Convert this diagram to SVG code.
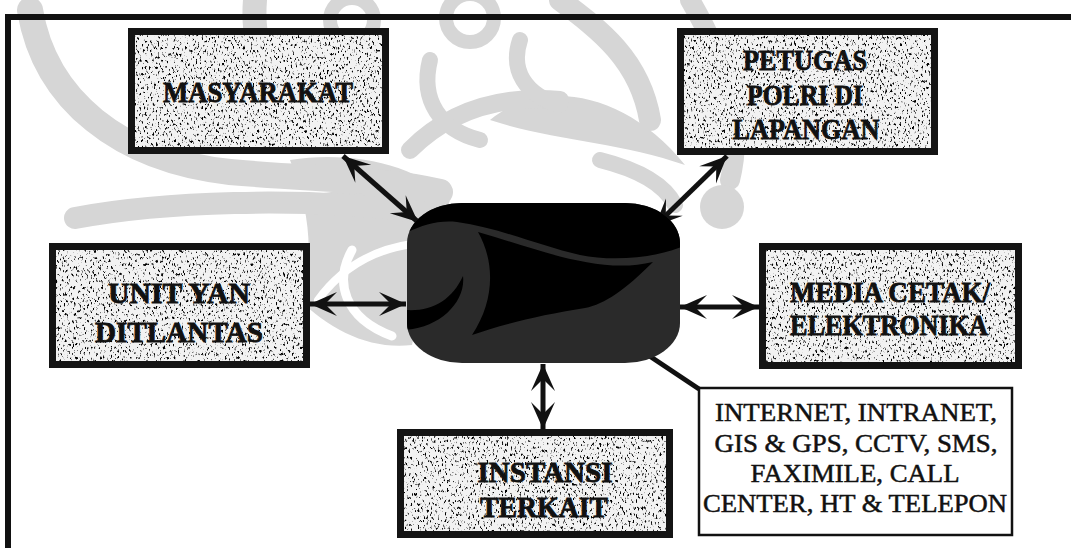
<svg xmlns="http://www.w3.org/2000/svg" width="1071" height="548" viewBox="0 0 1071 548">
  <style>
    .frame { fill: none; stroke: #111; stroke-width: 6; }
    .wm { fill: none; stroke: #d6d6d6; stroke-linecap: round; }
    .wmf { fill: #d6d6d6; }
    .gap { fill: none; stroke: #fff; stroke-linecap: round; }
    .box-bg { fill: #f2f2f2; }
    .box-edge { fill: none; stroke: #141414; stroke-width: 7; }
    .box-tex { fill: #000; }
    .lbl { font-family: "Liberation Serif", "Times New Roman", serif; font-weight: bold; font-size: 29px; fill: #111; stroke: #111; stroke-width: 0.8; text-anchor: middle; }
    .note { font-family: "Liberation Serif", "Times New Roman", serif; font-size: 26px; fill: #111; stroke: #111; stroke-width: 0.5; text-anchor: middle; }
    .link { stroke: #111; stroke-width: 5; fill: none; }
  </style>
  <defs>
    <!-- grainy halftone fill for the labelled boxes -->
    <filter id="speckle" x="0" y="0" width="100%" height="100%">
      <feTurbulence type="fractalNoise" baseFrequency="0.55 0.3" numOctaves="2" seed="7" result="n"/>
      <feColorMatrix in="n" type="matrix" values="0 0 0 0 0  0 0 0 0 0  0 0 0 0 0  -7 0 0 0 2.9" result="dots"/>
      <feComposite in="dots" in2="SourceGraphic" operator="in"/>
    </filter>
    <marker id="barb" markerUnits="userSpaceOnUse" viewBox="-28 -14 30 28" refX="0" refY="0" markerWidth="30" markerHeight="28" orient="auto-start-reverse">
      <path d="M0,0 L-27,-12 L-15,0 L-27,12 Z" fill="#111"/>
    </marker>
    <clipPath id="hubClip">
      <rect x="407" y="203" width="273" height="160" rx="55" ry="40"/>
    </clipPath>
  </defs>

  <rect width="1071" height="548" fill="#fff"/>

  <!-- background emblem -->
  <g id="emblem">
    <path class="wmf" d="M 290,160 C 350,150 420,165 450,200 L 430,260 L 412,345 C 370,350 330,330 300,300 C 315,260 310,210 290,160 Z"/>
    <path class="gap" stroke-width="10" d="M 300,192 C 345,182 400,182 448,196"/>
    <path class="gap" stroke-width="9" d="M 352,250 C 334,282 344,318 392,336"/>
    <path class="gap" stroke-width="8" d="M 318,300 C 340,270 370,250 412,244"/>
    <path class="wm" stroke-width="26" d="M 30,10 C 45,100 120,160 230,172 C 320,180 380,178 440,192"/>
    <path class="wm" stroke-width="22" d="M 75,218 C 160,202 300,196 420,212"/>
    <path class="wm" stroke-width="24" d="M 255,0 C 250,60 280,110 330,135"/>
    <circle class="wm" stroke-width="14" cx="352" cy="20" r="22"/>
    <circle class="wm" stroke-width="14" cx="470" cy="18" r="24"/>
    <path class="wm" stroke-width="22" d="M 560,0 C 600,30 640,60 650,120"/>
    <path class="wm" stroke-width="20" d="M 690,0 C 725,60 745,120 730,180"/>
    <circle class="wmf" cx="722" cy="207" r="22"/>
    <path class="wmf" d="M 490,120 C 540,78 625,90 685,165 C 620,142 550,140 490,120 Z"/>
    <path class="wm" stroke-width="18" d="M 410,150 C 450,110 500,95 560,100"/>
    <path class="wm" stroke-width="16" d="M 430,60 C 420,100 440,130 480,140"/>
    <path class="wm" stroke-width="16" d="M 520,40 C 510,70 525,95 560,105"/>
    <path class="wm" stroke-width="16" d="M 600,160 C 640,170 665,185 675,205"/>
  </g>

  <!-- outer frame -->
  <path class="frame" d="M 8,548 L 8,17 L 1071,17"/>

  <!-- connectors -->
  <g id="connectors">
    <line class="link" x1="343" y1="156" x2="418" y2="222" marker-start="url(#barb)" marker-end="url(#barb)"/>
    <line class="link" x1="727" y1="156" x2="655" y2="226" marker-start="url(#barb)" marker-end="url(#barb)"/>
    <line class="link" x1="310" y1="304" x2="406" y2="304" marker-start="url(#barb)" marker-end="url(#barb)"/>
    <line class="link" x1="680" y1="307" x2="759" y2="307" marker-start="url(#barb)" marker-end="url(#barb)"/>
    <line class="link" x1="543" y1="364" x2="543" y2="429" marker-start="url(#barb)" marker-end="url(#barb)"/>
    <line class="link" x1="645" y1="353" x2="699" y2="389"/>
  </g>

  <!-- central hub -->
  <g id="hub">
    <rect x="407" y="203" width="273" height="160" rx="55" ry="40" fill="#2a2a2a"/>
    <g clip-path="url(#hubClip)" fill="#000">
      <path d="M 400,195 L 690,195 L 690,243 C 660,258 615,262 580,255 C 540,246 500,228 457,222 C 435,220 420,226 400,236 Z"/>
      <path d="M 478,232 C 540,250 600,275 653,262 C 625,290 605,304 585,308 C 540,315 500,325 472,335 C 495,300 495,262 478,232 Z"/>
      <path d="M 405,330 C 440,328 466,302 463,276 C 452,300 432,312 405,310 Z"/>
    </g>
  </g>

  <g id="masyarakat">
    <rect class="box-bg" x="131.5" y="31.5" width="254" height="119"/>
    <rect class="box-tex" x="131.5" y="31.5" width="254" height="119" filter="url(#speckle)"/>
    <rect class="box-edge" x="131.5" y="31.5" width="254" height="119"/>
    <text class="lbl" x="258" y="102" textLength="190" lengthAdjust="spacingAndGlyphs">MASYARAKAT</text>
  </g>

  <g id="petugas">
    <rect class="box-bg" x="680.5" y="31.5" width="254" height="120"/>
    <rect class="box-tex" x="680.5" y="31.5" width="254" height="120" filter="url(#speckle)"/>
    <rect class="box-edge" x="680.5" y="31.5" width="254" height="120"/>
    <text class="lbl" x="805" y="70" textLength="124" lengthAdjust="spacingAndGlyphs">PETUGAS</text>
    <text class="lbl" x="805" y="105" textLength="116" lengthAdjust="spacingAndGlyphs">POLRI DI</text>
    <text class="lbl" x="806" y="139" textLength="147" lengthAdjust="spacingAndGlyphs">LAPANGAN</text>
  </g>

  <g id="unit-yan">
    <rect class="box-bg" x="52.5" y="246.5" width="254" height="118"/>
    <rect class="box-tex" x="52.5" y="246.5" width="254" height="118" filter="url(#speckle)"/>
    <rect class="box-edge" x="52.5" y="246.5" width="254" height="118"/>
    <text class="lbl" x="179" y="303" textLength="142" lengthAdjust="spacingAndGlyphs">UNIT YAN</text>
    <text class="lbl" x="179" y="342" textLength="168" lengthAdjust="spacingAndGlyphs">DITLANTAS</text>
  </g>

  <g id="media">
    <rect class="box-bg" x="762.5" y="246.5" width="256" height="119"/>
    <rect class="box-tex" x="762.5" y="246.5" width="256" height="119" filter="url(#speckle)"/>
    <rect class="box-edge" x="762.5" y="246.5" width="256" height="119"/>
    <text class="lbl" x="890" y="302" textLength="200" lengthAdjust="spacingAndGlyphs">MEDIA CETAK/</text>
    <text class="lbl" x="889" y="335" textLength="198" lengthAdjust="spacingAndGlyphs">ELEKTRONIKA</text>
  </g>

  <g id="instansi">
    <rect class="box-bg" x="400.5" y="432.5" width="269" height="102"/>
    <rect class="box-tex" x="400.5" y="432.5" width="269" height="102" filter="url(#speckle)"/>
    <rect class="box-edge" x="400.5" y="432.5" width="269" height="102"/>
    <text class="lbl" x="545" y="482" textLength="135" lengthAdjust="spacingAndGlyphs">INSTANSI</text>
    <text class="lbl" x="544" y="517" textLength="128" lengthAdjust="spacingAndGlyphs">TERKAIT</text>
  </g>

  <g id="channels">
    <rect x="699" y="388" width="313" height="147" fill="#fff" stroke="#111" stroke-width="2.5"/>
    <text class="note" x="856" y="421" textLength="282" lengthAdjust="spacingAndGlyphs">INTERNET, INTRANET,</text>
    <text class="note" x="856" y="452" textLength="283" lengthAdjust="spacingAndGlyphs">GIS &amp; GPS, CCTV, SMS,</text>
    <text class="note" x="855" y="482" textLength="209" lengthAdjust="spacingAndGlyphs">FAXIMILE, CALL</text>
    <text class="note" x="855" y="512" textLength="304" lengthAdjust="spacingAndGlyphs">CENTER, HT &amp; TELEPON</text>
  </g>
</svg>
